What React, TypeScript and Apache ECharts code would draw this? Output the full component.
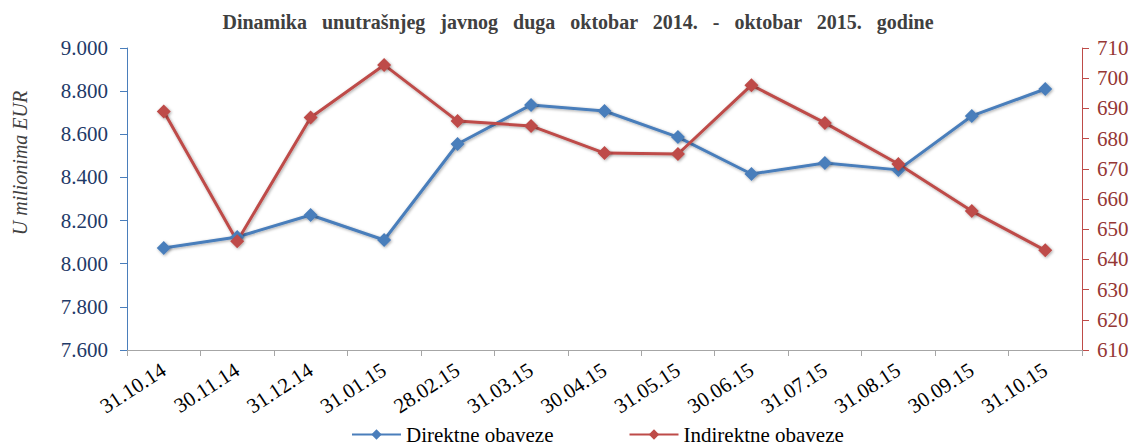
import React, { useEffect, useRef } from "react";
import * as echarts from "echarts";

const categories = [
  "31.10.14", "30.11.14", "31.12.14", "31.01.15", "28.02.15", "31.03.15", "30.04.15",
  "31.05.15", "30.06.15", "31.07.15", "31.08.15", "30.09.15", "31.10.15",
];
const direktne = [8073, 8124, 8226, 8110, 8555, 8736, 8708, 8587, 8416, 8467, 8435, 8685, 8810];
const indirektne = [689, 646, 687, 704.4, 685.8, 684.2, 675.2, 674.9, 697.7, 685.2, 671.6, 656, 643];
const leftTicks = { min: 7600, max: 9000, interval: 200 };
const rightTicks = { min: 610, max: 710, interval: 10 };
const titleWords = ["Dinamika", "unutrašnjeg", "javnog", "duga", "oktobar", "2014.", "-", "oktobar", "2015.", "godine"];

const FONT = "Liberation Serif";
const BLUE = "#4a7ebb";
const RED = "#be4b48";

export default function App() {
  const ref = useRef<HTMLDivElement>(null);
  useEffect(() => {
    if (!ref.current) return;
    const chart = echarts.init(ref.current, undefined, { renderer: "svg" });
    const shadow = { shadowBlur: 3, shadowColor: "rgba(0,0,0,0.35)", shadowOffsetX: 1, shadowOffsetY: 1 };
    chart.setOption({
      animation: false,
      backgroundColor: "#ffffff",
      textStyle: { fontFamily: FONT },
      title: {
        text: titleWords.join("   "),
        left: 573,
        textAlign: "center",
        top: 7,
        textStyle: { fontFamily: FONT, fontSize: 20, fontWeight: "bold", color: "#404040" },
      },
      grid: { left: 127, right: 54, top: 48, bottom: 96 },
      legend: {
        top: 419,
        left: 346,
        itemWidth: 49,
        itemHeight: 13,
        itemGap: 75,
        textStyle: { fontFamily: FONT, fontSize: 21, color: "#000" },
        data: ["Direktne obaveze", "Indirektne obaveze"],
      },
      graphic: [
        {
          type: "text",
          x: 20,
          y: 163,
          rotation: Math.PI / 2,
          style: {
            text: "U milionima EUR",
            fontFamily: FONT,
            fontStyle: "italic",
            fontSize: 20,
            fill: "#404040",
            align: "center",
            verticalAlign: "middle",
          },
        },
      ],
      xAxis: {
        type: "category",
        data: categories,
        boundaryGap: true,
        axisLine: { lineStyle: { color: "#a6a6a6", width: 1 } },
        axisTick: { show: true, length: 6, lineStyle: { color: "#a6a6a6" } },
        axisLabel: {
          rotate: 33,
          fontFamily: FONT,
          fontSize: 21,
          color: "#000",
          margin: 18,
        },
      },
      yAxis: [
        {
          type: "value",
          ...leftTicks,
          splitLine: { show: false },
          axisLine: { show: true, lineStyle: { color: BLUE, width: 1 } },
          axisTick: { show: true, length: 7, lineStyle: { color: BLUE } },
          axisLabel: {
            fontFamily: FONT,
            fontSize: 21,
            color: "#1f3a68",
            margin: 19,
            formatter: (v: number) => (v / 1000).toFixed(3),
          },
        },
        {
          type: "value",
          ...rightTicks,
          position: "right",
          splitLine: { show: false },
          axisLine: { show: true, lineStyle: { color: RED, width: 1 } },
          axisTick: { show: true, length: 7, lineStyle: { color: RED } },
          axisLabel: { fontFamily: FONT, fontSize: 21, color: "#953735", margin: 15 },
        },
      ],
      series: [
        {
          name: "Direktne obaveze",
          type: "line",
          yAxisIndex: 0,
          data: direktne,
          symbol: "diamond",
          symbolSize: 14,
          itemStyle: { color: BLUE, ...shadow },
          lineStyle: { color: BLUE, width: 3, ...shadow },
        },
        {
          name: "Indirektne obaveze",
          type: "line",
          yAxisIndex: 1,
          data: indirektne,
          symbol: "diamond",
          symbolSize: 14,
          itemStyle: { color: RED, ...shadow },
          lineStyle: { color: RED, width: 3, ...shadow },
        },
      ],
    });
    return () => chart.dispose();
  }, []);
  return (
    <div
      ref={ref}
      style={{ position: "absolute", left: 0, top: 0, width: 1136, height: 446 }}
    />
  );
}
